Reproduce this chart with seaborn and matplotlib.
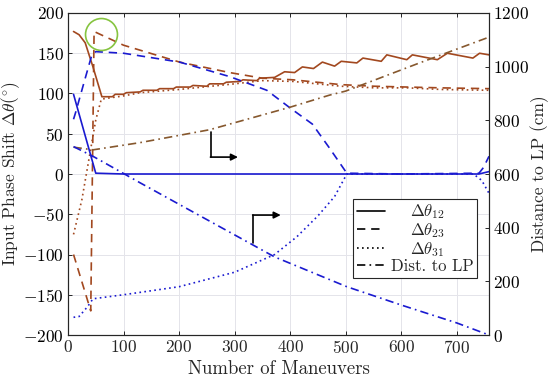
import numpy as np
import pandas as pd
import matplotlib
matplotlib.use('Agg')
import matplotlib.pyplot as plt
import seaborn as sns

# ── data ─────────────────────────────────────────────────────
# brown case, left axis (deg)
br12_x = [10, 20, 31, 45, 61, 80, 85, 100, 105, 130, 135, 160, 165, 190, 195, 220, 225, 250, 255, 280,
          285, 310, 315, 340, 345, 372, 390, 408, 422, 442, 458, 480, 492, 520, 531, 564, 574, 610, 620,
          665, 683, 729, 741, 758]
br12_y = [177, 173, 163, 133, 96, 96, 99, 99, 101, 102, 104, 104, 106, 106, 108, 108, 110, 109, 112, 112,
          114, 115, 117, 116, 119, 120, 127, 126, 133, 131, 139, 134, 140, 138, 144, 140, 148, 142, 148,
          142, 150, 144, 150, 148]
br23_x = [10, 41, 47, 100, 201, 291, 350, 405, 492, 552, 612, 672, 758]
br23_y = [-100, -170, 177, 160, 139, 126, 119, 117, 111, 109, 108, 107, 106]
br31_x = [10, 25, 50, 60, 100, 130, 200, 300, 350, 405, 492, 552, 612, 672, 758]
br31_y = [-75, -32, 67, 93, 97, 101, 105, 112, 116, 115, 109, 107, 107, 105, 104]
# brown case, distance to LP (cm)
br_lp_x = [10, 45, 130, 255, 400, 471, 500, 633, 758]
br_lp_y = [700, 690, 717, 765, 849, 894, 909, 1014, 1110]

# blue case, left axis (deg)
bl12_x = [10, 50, 100, 400, 740, 758]
bl12_y = [99, 1, 0, 0, 0, 3]
bl23_x = [10, 14, 29, 43, 50, 100, 201, 291, 358, 400, 440, 470, 502, 600, 740, 748, 758]
bl23_y = [68, 77, 114, 148, 152, 150, 139, 121, 104, 82, 62, 33, 1, 0, 1, 8, 22]
bl31_x = [10, 20, 35, 45, 100, 200, 300, 372, 412, 450, 480, 502, 600, 730, 745, 758]
bl31_y = [-178, -177, -165, -155, -150, -140, -122, -100, -78, -52, -28, 0, 0, 0, -8, -24]
# blue case, distance to LP (cm)
bl_lp_x = [10, 45, 130, 201, 372, 502, 601, 700, 758]
bl_lp_y = [702, 666, 567, 486, 291, 180, 111, 45, 0]

legend_labels = [r'$\Delta\theta_{12}$', r'$\Delta\theta_{23}$', r'$\Delta\theta_{31}$', 'Dist. to LP']

# ── style ────────────────────────────────────────────────────
sns.set_theme(style='ticks')
plt.rcParams['font.family'] = 'serif'
plt.rcParams['font.serif'] = ['cmr10']
plt.rcParams['mathtext.fontset'] = 'cm'
plt.rcParams['axes.formatter.use_mathtext'] = True
plt.rcParams['axes.unicode_minus'] = True

brown = '#A2481F'
brown_dd = '#86582E'
blue = '#1A1AD0'
lw = 1.2
dash = (0, (5, 3.5))
dot = (0, (1, 2))
dashdot = (0, (5, 2.5, 1, 2.5))

fig = plt.figure(figsize=(5.5, 3.81), dpi=100)
ax = fig.add_axes([0.1236, 0.1207, 0.7655, 0.8452])
ax2 = ax.twinx()

def draw(axis, xs, ys, color, ls):
    d = pd.DataFrame({'x': xs, 'y': ys})
    sns.lineplot(data=d, x='x', y='y', ax=axis, color=color, linestyle=ls, lw=lw,
                 sort=False, estimator=None)

draw(ax, br12_x, br12_y, brown, '-')
draw(ax, br23_x, br23_y, brown, dash)
draw(ax, br31_x, br31_y, brown, dot)
draw(ax, bl12_x, bl12_y, blue, '-')
draw(ax, bl23_x, bl23_y, blue, dash)
draw(ax, bl31_x, bl31_y, blue, dot)
draw(ax2, br_lp_x, br_lp_y, brown_dd, dashdot)
draw(ax2, bl_lp_x, bl_lp_y, blue, dashdot)

# green circle highlighting the jump
ax.plot(59, 174, 'o', ms=23, mfc='none', mec='#86C440', mew=1.2)

# arrows pointing to the right axis
ax.plot([257, 257], [52, 21], color='black', lw=1.2)
ax.annotate('', xy=(306, 21), xytext=(256.5, 21),
            arrowprops=dict(arrowstyle='-|>', color='black', lw=1.2, mutation_scale=10, shrinkA=0, shrinkB=0))
ax.plot([333, 333], [-86, -51], color='black', lw=1.2)
ax.annotate('', xy=(383, -51), xytext=(332.5, -51),
            arrowprops=dict(arrowstyle='-|>', color='black', lw=1.2, mutation_scale=10, shrinkA=0, shrinkB=0))

ax.set_xlim(0, 758)
ax.set_ylim(-200, 200)
ax2.set_ylim(0, 1200)
ax.set_xticks(range(0, 701, 100))
ax.set_yticks(range(-200, 201, 50))
ax2.set_yticks(range(0, 1201, 200))
ax.grid(True, color='#E4E4EA', lw=0.7)
ax.set_axisbelow(True)

ax.set_xlabel('Number of Maneuvers', fontsize=13.5, labelpad=3)
ax.set_ylabel(r'Input Phase Shift $\Delta\theta(^{\circ})$', fontsize=12.5, labelpad=1)
ax2.set_ylabel('Distance to LP (cm)', fontsize=12.5, labelpad=1)

for a in (ax, ax2):
    a.tick_params(direction='in', length=3, width=0.7, labelsize=12.5, colors='#262626', pad=3)
    for s in a.spines.values():
        s.set_color('#262626')
        s.set_linewidth(0.8)
        s.set_visible(True)
ax.tick_params(top=True, right=False)
ax.tick_params(axis='y', labelcolor='black')
ax2.tick_params(labelcolor='black')

# legend (black handles)
handles = [plt.Line2D([], [], color='black', lw=lw, linestyle=s) for s in ['-', dash, dot, dashdot]]
labels = ['   ' + r'$\,$' + legend_labels[0], '   ' + r'$\,$' + legend_labels[1],
          '   ' + r'$\,$' + legend_labels[2], legend_labels[3]]
leg = ax2.legend(handles, labels, loc='upper right', bbox_to_anchor=(0.971, 0.422),
                 fontsize=12, frameon=True, fancybox=False, framealpha=1,
                 edgecolor='#262626', handlelength=1.7, handletextpad=0.35, borderpad=0.2,
                 labelspacing=0.0, borderaxespad=0)
leg.get_frame().set_linewidth(0.8)

fig.savefig('out.png', dpi=100)
